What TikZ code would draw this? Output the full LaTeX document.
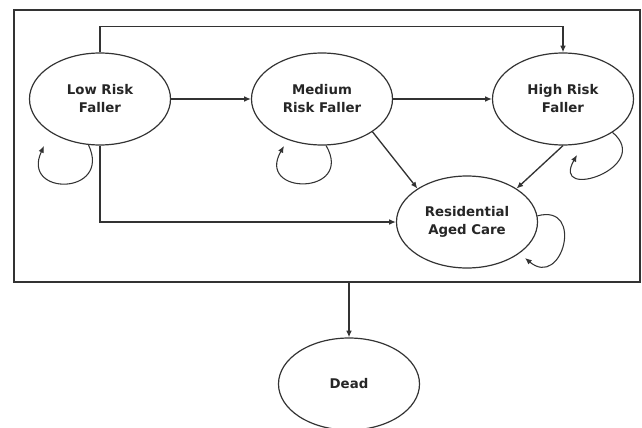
\documentclass[tikz,border=0pt]{standalone}
\usepackage{fontspec}
\setmainfont{DejaVu Sans}
\usetikzlibrary{shapes.geometric,arrows.meta}
\newcommand{\ew}{105.75pt}
\newcommand{\eh}{69pt}

\begin{document}
\begin{tikzpicture}[x=0.75pt,y=-0.75pt,
  state/.style={draw=black!80, line width=0.9pt, ellipse, minimum width=\ew, minimum height=\eh, inner sep=0pt, align=center, font=\bfseries\fontsize{10}{13.5}\selectfont, text=black!85},
  link/.style={draw=black!80, line width=1pt, -{Latex[length=5pt,width=4.2pt]}},
  selfloop/.style={link, line width=0.8pt}]
  \useasboundingbox (0,0) rectangle (642,428);
  % Outer frame
  \node[draw=black!80, line width=1.8pt, minimum width=469.5pt, minimum height=204pt, inner sep=0pt] (frame) at (327,146) {};

  % States
  \node[state] (low) at (100,99) {Low Risk\\Faller};
  \node[state] (med) at (322,99) {Medium\\Risk Faller};
  \node[state] (high) at (563,99) {High Risk\\Faller};
  \node[state] (res) at (467,222) {Residential\\Aged Care};
  \node[state] (dead) at (349,384) {Dead};

  % Transitions
  \draw[link] (low) -- (med);
  \draw[link] (med) -- (high);
  \draw[link] (low.north) -- ++(0,-26) -| (high.north);
  \draw[link] (low.south) |- (res.west);
  \draw[link] (med.-33) -- (res.146);
  \draw[link] (high.south) -- (res.34);
  \draw[link] (dead.north |- frame.south) -- (dead.north);

  % Self loops
  \coordinate (lowend) at (44,146);
  \coordinate (medend) at (284,146);
  \coordinate (highend) at (577,155);
  \coordinate (resend) at (525,258);
  \draw[selfloop] (low.-104) to[out=-65,in=-115,looseness=3.2] (lowend);
  \draw[selfloop] (med.-85) to[out=-60,in=-120,looseness=3.5] (medend);
  \draw[selfloop] (high.-34) to[out=-40,in=-120,looseness=3.3] (highend);
  \draw[selfloop] (res.5) to[out=15,in=-40,looseness=2.85] (resend);
\end{tikzpicture}
\end{document}
